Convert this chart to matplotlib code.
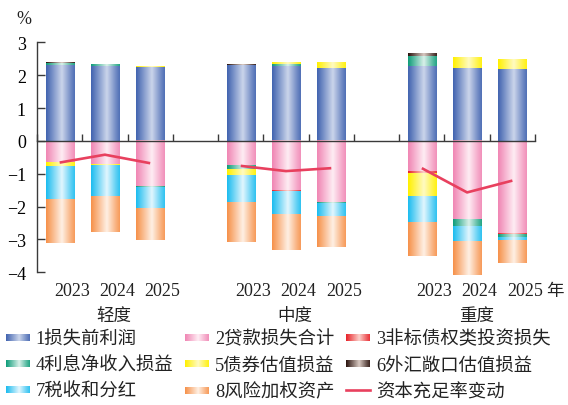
import numpy as np
import matplotlib
matplotlib.use("Agg")
import matplotlib.pyplot as plt
from matplotlib.colors import to_rgb
from matplotlib.legend_handler import HandlerBase
from matplotlib.image import BboxImage
from matplotlib.transforms import Bbox, TransformedBbox, blended_transform_factory, ScaledTranslation
from matplotlib.patches import Patch
from matplotlib.lines import Line2D

plt.rcParams['font.family'] = ['Liberation Serif', 'Noto Sans CJK SC']
plt.rcParams['axes.unicode_minus'] = True

# ---- data: three scenarios x three years ----
scenarios = ["轻度", "中度", "重度"]
years = ["2023", "2024", "2025"]

profit_pre_loss = [2.30, 2.29, 2.26, 2.30, 2.28, 2.22, 2.28, 2.22, 2.20]
loan_loss = [-0.63, -0.72, -1.38, -0.73, -1.50, -1.86, -0.94, -2.41, -2.80]
nonstd_debt_loss = [0.00, 0.00, 0.00, 0.00, -0.03, 0.00, -0.04, 0.00, -0.03]
net_interest = [0.08, 0.06, -0.02, -0.12, 0.06, -0.03, 0.31, -0.19, -0.09]
bond_valuation = [-0.15, -0.02, 0.03, -0.18, 0.04, 0.16, -0.69, 0.31, 0.30]
fx_valuation = [0.03, -0.03, 0.00, 0.03, 0.00, 0.00, 0.07, 0.00, 0.00]
tax_dividend = [-0.99, -0.92, -0.67, -0.85, -0.72, -0.42, -0.82, -0.45, -0.09]
rwa = [-1.33, -1.08, -0.96, -1.21, -1.07, -0.92, -1.01, -1.03, -0.70]
car_change = [-0.66, -0.42, -0.68, -0.76, -0.92, -0.83, -0.83, -1.57, -1.21]

series_labels = ["1损失前利润", "2贷款损失合计", "3非标债权类投资损失", "4利息净收入损益",
                 "5债券估值损益", "6外汇敞口估值损益", "7税收和分红", "8风险加权资产"]
line_label = "资本充足率变动"

series_values = [profit_pre_loss, loan_loss, nonstd_debt_loss, net_interest,
                 bond_valuation, fx_valuation, tax_dividend, rwa]
# (edge colour, highlight colour) for the cylinder-like shading
series_colors = [("#4264b0", "#d2dbee"), ("#f086b4", "#fff2f7"), ("#e8232a", "#fcd9d2"),
                 ("#0f9d7a", "#e4f5ef"), ("#fff000", "#fffbcc"), ("#2a130e", "#e2d3cc"),
                 ("#1cbcef", "#ecf9ff"), ("#f6914a", "#fff5ec")]
line_color = "#e8405e"


def make_grad(edge, light, n=64):
    t = np.linspace(0, 1, n)
    w = np.interp(t, [0, 0.12, 0.55, 0.88, 1.0], [0.0, 0.2, 0.95, 0.3, 0.1])
    e = np.array(to_rgb(edge))
    li = np.array(to_rgb(light))
    rgb = e[None, :] * (1 - w[:, None]) + li[None, :] * w[:, None]
    return rgb[None, :, :]


grads = [make_grad(e, l) for e, l in series_colors]

# slot positions: three bars per scenario, one empty slot between scenarios
xpos = np.array([0, 1, 2, 4, 5, 6, 8, 9, 10], dtype=float)
bar_w = 0.62

fig = plt.figure(figsize=(5.68, 4.06), dpi=100)
ax = fig.add_axes([37 / 568, 0.3175, 498 / 568, 0.5754])

pos_base = np.zeros(len(xpos))
neg_base = np.zeros(len(xpos))
for vals, (edge, light), grad in zip(series_values, series_colors, grads):
    vals = np.asarray(vals)
    bottoms = np.where(vals >= 0, pos_base, neg_base)
    bars = ax.bar(xpos, vals, bar_w, bottom=bottoms, color=edge, linewidth=0, zorder=2)
    for rect, v in zip(bars, vals):
        if v == 0:
            continue
        x0 = rect.get_x()
        y0 = rect.get_y()
        y1 = y0 + rect.get_height()
        ax.imshow(grad, extent=[x0, x0 + rect.get_width(), min(y0, y1), max(y0, y1)],
                  aspect='auto', interpolation='bilinear', zorder=2.1)
    pos_base = pos_base + np.where(vals > 0, vals, 0)
    neg_base = neg_base + np.where(vals < 0, vals, 0)

for g in range(3):
    sl = slice(3 * g, 3 * g + 3)
    ax.plot(xpos[sl], car_change[sl], color=line_color, lw=1.9, zorder=4,
            solid_capstyle='butt')

ax.set_xlim(-0.5, 10.5)
ax.set_ylim(-4.12, 3)
ax.set_aspect('auto')

for s in ("top", "right"):
    ax.spines[s].set_visible(False)
ax.spines["bottom"].set_position(("data", 0))
ax.spines["left"].set_bounds(-4, 3)
for s in ("bottom", "left"):
    ax.spines[s].set_color("#3a3a3a")
    ax.spines[s].set_linewidth(1.0)
    ax.spines[s].set_zorder(5)

boundaries = [-0.5, 0.5, 1.5, 2.5, 3.5, 4.5, 5.5, 6.5, 7.5, 8.5, 9.5, 10.5]
ax.set_xticks(boundaries)
ax.set_xticklabels([])
ax.tick_params(axis="x", direction="in", length=5, width=1, color="#3a3a3a")
yt = list(range(-4, 4))
ax.set_yticks(yt)
ax.set_yticklabels([("\u2212" + str(-v)) if v < 0 else str(v) for v in yt], fontsize=13)
ax.tick_params(axis="y", direction="in", length=6, width=1, color="#3a3a3a", pad=8)

# year and scenario labels under the axis
tr_year = blended_transform_factory(ax.transData, fig.transFigure) + \
    ScaledTranslation(12.5 / 100, 0, fig.dpi_scale_trans)
for i, x in enumerate(xpos):
    ax.text(x, (406 - 292) / 406, years[i % 3], transform=tr_year, ha="center",
            va="center", fontsize=13, color="#222222")
tr_grp = blended_transform_factory(ax.transData, fig.transFigure) + \
    ScaledTranslation(9 / 100, 0, fig.dpi_scale_trans)
for g, name in enumerate(scenarios):
    ax.text(xpos[3 * g + 1], (406 - 317) / 406, name, transform=tr_grp, ha="center",
            va="center", fontsize=12.6, color="#222222")
fig.text(546 / 568, (406 - 292) / 406, "年", ha="left", va="center", fontsize=12.6,
         color="#222222")
fig.text(24 / 568, (406 - 19) / 406, "%", ha="center", va="center", fontsize=13,
         color="#222222")


class GradientHandler(HandlerBase):
    def __init__(self, grad, **kw):
        super().__init__(**kw)
        self.grad = grad

    def create_artists(self, legend, orig_handle, xdescent, ydescent, width, height,
                       fontsize, trans):
        h = 7.0 * 72 / 100
        y0 = -ydescent + (height - h) / 2
        bb = TransformedBbox(Bbox.from_bounds(-xdescent, y0, width, h), trans)
        img = BboxImage(bb, interpolation='bilinear')
        img.set_data(self.grad)
        return [img]


handles = [Patch(facecolor=c[0]) for c in series_colors]
handler_map = {h: GradientHandler(g) for h, g in zip(handles, grads)}
line_handle = Line2D([], [], color=line_color, lw=1.9)
all_handles = handles + [line_handle]
all_labels = series_labels + [line_label]
# legend fills column by column; reorder so entries read across rows
order = [0, 3, 6, 1, 4, 7, 2, 5, 8]
leg = fig.legend([all_handles[i] for i in order], [all_labels[i] for i in order],
                 handler_map=handler_map, ncol=3,
                 loc="upper left", bbox_to_anchor=(6 / 568, (406 - 331) / 406),
                 frameon=False, fontsize=13.2, handlelength=1.27, handletextpad=0.35,
                 columnspacing=0.65, labelspacing=0.5, borderpad=0, borderaxespad=0)
for t in leg.get_texts():
    t.set_color("#222222")

fig.savefig("out.png", dpi=100)
